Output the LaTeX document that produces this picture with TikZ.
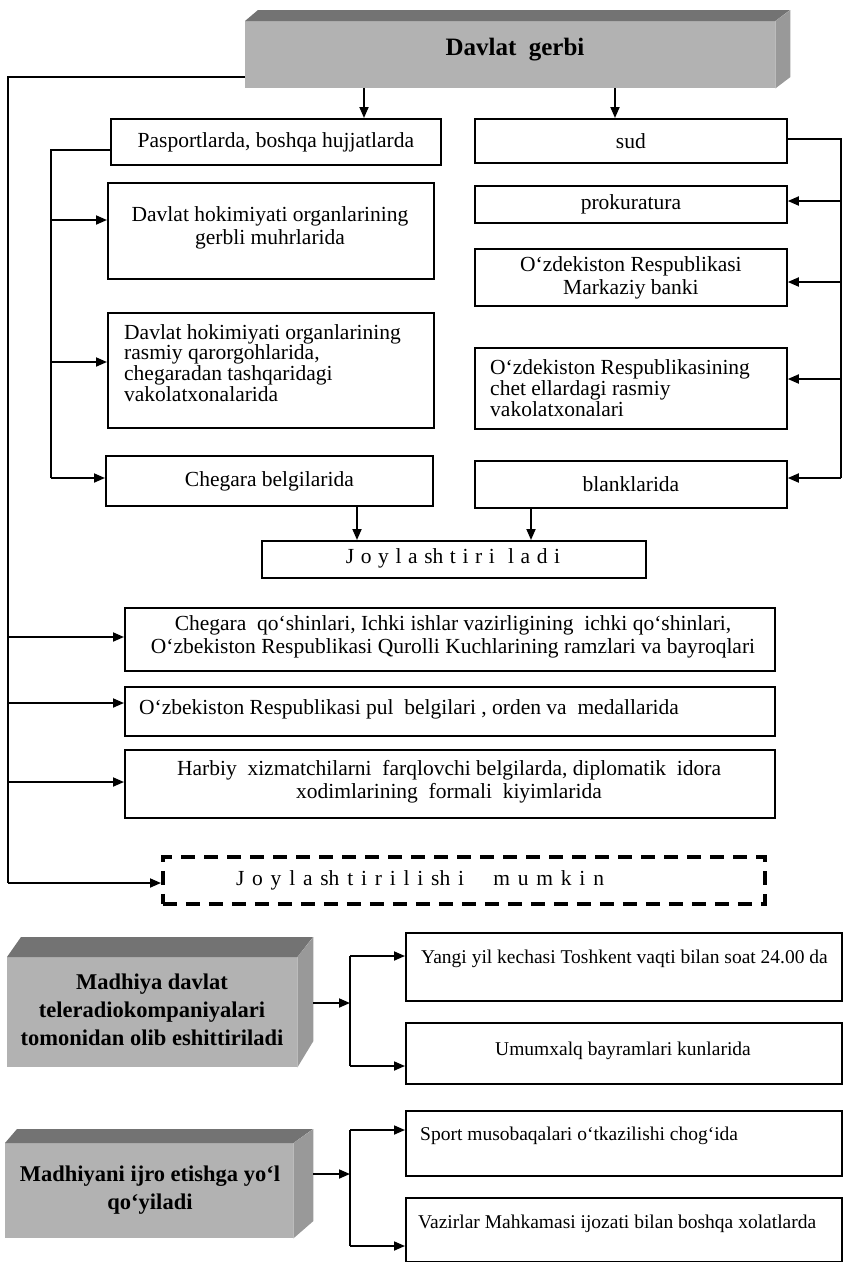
\documentclass[tikz,border=0pt]{standalone}
\usepackage{fontspec}
\setmainfont{Liberation Serif}
\usetikzlibrary{arrows.meta,calc}
\begin{document}
\begin{tikzpicture}[x=1pt,y=-1pt,
  bx/.style={draw, line width=1.8pt, inner sep=0pt, anchor=north west},
  txt/.style={font=\fontsize{21.5}{23}\selectfont, inner sep=0pt, align=center},
  txts/.style={font=\fontsize{19.5}{22}\selectfont, inner sep=0pt, align=center},
  txtl/.style={font=\fontsize{21.5}{20.8}\selectfont, inner sep=0pt, align=left, anchor=west},
  ln/.style={line width=1.8pt},
  arr/.style={line width=1.8pt, -{Triangle[length=11pt,width=9pt]}},
  ttl/.style={font=\bfseries\fontsize{22.5}{28}\selectfont, align=center, inner sep=0pt},
  front/.style={fill=black!30, draw=none, inner sep=0pt, anchor=north west},
  topface/.style={fill=black!55, draw=none},
  sideface/.style={fill=black!40, draw=none}
]
\useasboundingbox (0,0) rectangle (843,1262);
\fill[white] (0,0) rectangle (843,1262);

% header 3D box
\node[front, minimum width=530pt, minimum height=67pt] (hdr) at (245,21) {};
\fill[topface] (hdr.north west) -- ++(13,-11) -- ++(532,0) -- (hdr.north east) -- cycle;
\fill[sideface] (hdr.north east) -- ++(15,-11) -- ++(0,67) -- (hdr.south east) -- cycle;
\node[font=\bfseries\fontsize{25}{28}\selectfont, inner sep=0pt] (hdrt) at (515,50) {Davlat\ \ gerbi};

% left column
\node[bx, minimum width=330pt, minimum height=46pt] (pasp) at (110,118) {};
\node[txt] (paspt) at (pasp.center) {Pasportlarda, boshqa hujjatlarda};
\node[bx, minimum width=326pt, minimum height=96pt] (dh1) at (107,182) {};
\node[txt] (dh1t) at (270,228) {Davlat hokimiyati organlarining\\gerbli muhrlarida};
\node[bx, minimum width=326pt, minimum height=115pt] (dh2) at (107,312) {};
\node[txtl] (dh2t) at (124,363) {Davlat hokimiyati organlarining\\rasmiy qarorgohlarida,\\chegaradan tashqaridagi\\vakolatxonalarida};
\node[bx, minimum width=327pt, minimum height=50pt] (cheg) at (105,455) {};
\node[txt] (chegt) at (cheg.center) {Chegara belgilarida};

% right column
\node[bx, minimum width=312pt, minimum height=44pt] (sud) at (474,118) {};
\node[txt] (sudt) at (sud.center) {sud};
\node[bx, minimum width=312pt, minimum height=37pt] (prok) at (474,185) {};
\node[txt] (prokt) at (prok.center) {prokuratura};
\node[bx, minimum width=312pt, minimum height=57pt] (bank) at (474,248) {};
\node[txt] (bankt) at (bank.center) {O‘zdekiston Respublikasi\\Markaziy banki};
\node[bx, minimum width=312pt, minimum height=81pt] (chet) at (474,347) {};
\node[txtl] (chett) at (490,388) {O‘zdekiston Respublikasining\\chet ellardagi rasmiy\\vakolatxonalari};
\node[bx, minimum width=312pt, minimum height=47pt] (blank) at (474,460) {};
\node[txt] (blankt) at (blank.center) {blanklarida};

% Joylashtiriladi
\node[bx, minimum width=384pt, minimum height=37pt] (joyl) at (261,540) {};
\node[txt] (joylt) at (453,558) {\spaceskip=6.6pt\relax J o y l a sh t i r i \ l a d i};

% wide boxes
\node[bx, minimum width=650pt, minimum height=63pt] (ba) at (124,607) {};
\node[txt] (bat) at (453,637) {Chegara\ \ qo‘shinlari, Ichki ishlar vazirligining\ \ ichki qo‘shinlari,\\O‘zbekiston Respublikasi Qurolli Kuchlarining ramzlari va bayroqlari};
\node[bx, minimum width=650pt, minimum height=49pt] (bb) at (124,686) {};
\node[txtl] (bbt) at (139,709) {O‘zbekiston Respublikasi pul\ \ belgilari , orden va\ \ medallarida};
\node[bx, minimum width=650pt, minimum height=68pt] (bc) at (124,749) {};
\node[txt] (bct) at (449,782) {Harbiy\ \ xizmatchilarni\ \ farqlovchi belgilarda, diplomatik\ \ idora\\xodimlarining\ \ formali\ \ kiyimlarida};

% dashed box
\node[bx, line width=3.6pt, dash pattern=on 14pt off 9pt, minimum width=602pt, minimum height=47pt] (dsh) at (161,855) {};
\node[txt] (dsht) at (420,880) {\spaceskip=7.8pt\relax J o y l a sh t i r i l i sh i \quad m u m k i n};

% connectors top
\coordinate (h1) at (245,77);
\coordinate (h2) at (8,883);
\draw[ln] (h1) -- (h1 -| h2) -- (h2);
\draw[arr] (h2) -- (h2 -| dsh.west);
\coordinate (a1) at (364,88);
\coordinate (a2) at (615,88);
\draw[arr] (a1) -- (a1 |- pasp.north);
\draw[arr] (a2) -- (a2 |- sud.north);

% left inner
\coordinate (m0) at (51,150);
\coordinate (m1) at (51,220);
\coordinate (m2) at (51,362);
\coordinate (m3) at (51,478);
\draw[ln] (m0 -| pasp.west) -- (m0) -- (m3);
\draw[arr] (m1) -- (m1 -| dh1.west);
\draw[arr] (m2) -- (m2 -| dh2.west);
\draw[arr] (m3) -- (m3 -| cheg.west);

% right side
\coordinate (r0) at (841,139);
\coordinate (r1) at (841,201);
\coordinate (r2) at (841,282);
\coordinate (r3) at (841,379);
\coordinate (r4) at (841,478);
\draw[ln] (r0 -| sud.east) -- (r0) -- (r4);
\draw[arr] (r1) -- (r1 -| prok.east);
\draw[arr] (r2) -- (r2 -| bank.east);
\draw[arr] (r3) -- (r3 -| chet.east);
\draw[arr] (r4) -- (r4 -| blank.east);

% to Joylashtiriladi
\coordinate (j1) at (357,505);
\coordinate (j2) at (531,507);
\draw[arr] (j1 |- cheg.south) -- (j1 |- joyl.north);
\draw[arr] (j2 |- blank.south) -- (j2 |- joyl.north);

% outer left arrows
\coordinate (o1) at (8,637);
\coordinate (o2) at (8,703);
\coordinate (o3) at (8,782);
\draw[arr] (o1) -- (o1 -| ba.west);
\draw[arr] (o2) -- (o2 -| bb.west);
\draw[arr] (o3) -- (o3 -| bc.west);

% bottom 3D boxes
\node[front, minimum width=290pt, minimum height=110pt] (md1) at (7,957) {};
\fill[topface] (md1.north west) -- ++(14,-20) -- ++(292,0) -- (md1.north east) -- cycle;
\fill[sideface] (md1.north east) -- ++(16,-20) -- ++(0,104) -- (md1.south east) -- cycle;
\node[ttl] (md1t) at (152,1010) {Madhiya davlat\\teleradiokompaniyalari\\tomonidan olib eshittiriladi};

\node[front, minimum width=288pt, minimum height=95pt] (md2) at (5,1143) {};
\fill[topface] (md2.north west) -- ++(12,-14) -- ++(296,0) -- (md2.north east) -- cycle;
\fill[sideface] (md2.north east) -- ++(20,-14) -- ++(0,92) -- (md2.south east) -- cycle;
\node[ttl] (md2t) at (150,1190) {Madhiyani ijro etishga yo‘l\\qo‘yiladi};

% right bottom boxes
\node[bx, minimum width=436pt, minimum height=68pt] (yan) at (405,932) {};
\node[txts, anchor=west] (yant) at (421,959) {Yangi yil kechasi Toshkent vaqti bilan soat 24.00 da};
\node[bx, minimum width=436pt, minimum height=61pt] (umu) at (405,1022) {};
\node[txts] (umut) at (623,1051) {Umumxalq bayramlari kunlarida};
\node[bx, minimum width=436pt, minimum height=65pt] (spo) at (405,1110) {};
\node[txts, anchor=west] (spot) at (420,1136) {Sport musobaqalari o‘tkazilishi chog‘ida};
\node[bx, minimum width=436pt, minimum height=64pt] (vaz) at (405,1197) {};
\node[txts, anchor=west] (vazt) at (418,1224) {Vazirlar Mahkamasi ijozati bilan boshqa xolatlarda};

% bottom connectors
\coordinate (k1) at (350,1003);
\coordinate (k1a) at (350,956);
\coordinate (k1b) at (350,1066);
\draw[arr] (md1.east |- k1) ++(16,0) -- (k1);
\draw[ln] (k1a) -- (k1b);
\draw[arr] (k1a) -- (k1a -| yan.west);
\draw[arr] (k1b) -- (k1b -| umu.west);

\coordinate (k2) at (350,1174);
\coordinate (k2a) at (350,1130);
\coordinate (k2b) at (350,1246);
\draw[arr] (md2.east |- k2) ++(20,0) -- (k2);
\draw[ln] (k2a) -- (k2b);
\draw[arr] (k2a) -- (k2a -| spo.west);
\draw[arr] (k2b) -- (k2b -| vaz.west);
\end{tikzpicture}
\end{document}
